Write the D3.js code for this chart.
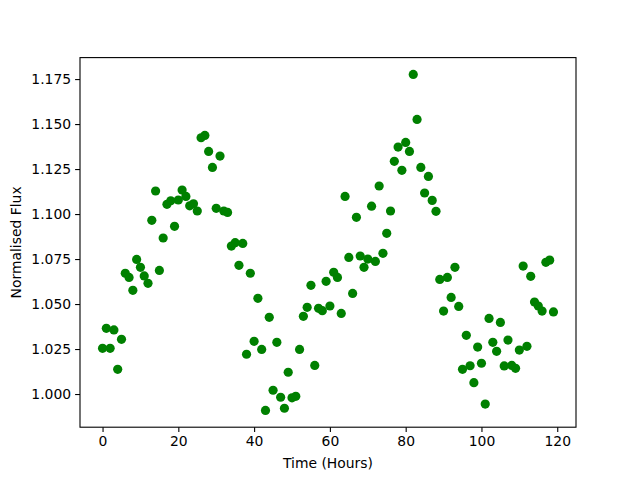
<!DOCTYPE html>
<html>
<head>
<meta charset="utf-8">
<script src="https://cdn.jsdelivr.net/npm/d3@7"></script>
<style>
  body { margin: 0; background: #fff; }
  text { font-family: "DejaVu Sans", sans-serif; }
</style>
</head>
<body>
<div id="chart"></div>
<script>
// hours since start
const hours = [
  0, 1, 2, 3, 4, 5, 6, 7, 8, 9, 10, 11, 12, 13, 14, 15, 16, 17, 18, 19,
  20, 21, 22, 23, 24, 25, 26, 27, 28, 29, 30, 31, 32, 33, 34, 35, 36, 37, 38, 39,
  40, 41, 42, 43, 44, 45, 46, 47, 48, 49, 50, 51, 52, 53, 54, 55, 56, 57, 58, 59,
  60, 61, 62, 63, 64, 65, 66, 67, 68, 69, 70, 71, 72, 73, 74, 75, 76, 77, 78, 79,
  80, 81, 82, 83, 84, 85, 86, 87, 88, 89, 90, 91, 92, 93, 94, 95, 96, 97, 98, 99,
  100, 101, 102, 103, 104, 105, 106, 107, 108, 109, 110, 111, 112, 113, 114, 115, 116, 117, 118, 119
];

// normalised flux
const flux = [
  1.0254, 1.0365, 1.0254, 1.0356, 1.0137, 1.0304, 1.0671, 1.0648, 1.0576, 1.0748,
  1.0704, 1.0656, 1.0615, 1.0965, 1.1128, 1.0687, 1.0867, 1.1054, 1.1074, 1.0932,
  1.1078, 1.1133, 1.1098, 1.1046, 1.1057, 1.1017, 1.1424, 1.1437, 1.1348, 1.1259,
  1.1032, 1.1322, 1.1017, 1.1009, 1.0822, 1.0841, 1.0715, 1.0837, 1.0221, 1.0671,
  1.0293, 1.0532, 1.0248, 0.9909, 1.0426, 1.0021, 1.0287, 0.9982, 0.9921, 1.0121,
  0.9979, 0.9987, 1.0248, 1.0432, 1.0482, 1.0604, 1.0159, 1.0476, 1.0463, 1.0626,
  1.0489, 1.0676, 1.0648, 1.0448, 1.1098, 1.0759, 1.0559, 1.0982, 1.0767, 1.0704,
  1.0750, 1.1044, 1.0737, 1.1156, 1.0782, 1.0893, 1.1017, 1.1293, 1.1372, 1.1243,
  1.1398, 1.1348, 1.1776, 1.1526, 1.1259, 1.1117, 1.1209, 1.1076, 1.1015, 1.0637,
  1.0461, 1.0648, 1.0537, 1.0704, 1.0487, 1.0137, 1.0326, 1.0157, 1.0063, 1.0261,
  1.0171, 0.9944, 1.0420, 1.0287, 1.0237, 1.0398, 1.0156, 1.0300, 1.0159, 1.0143,
  1.0244, 1.0711, 1.0265, 1.0654, 1.0511, 1.0489, 1.0461, 1.0732, 1.0744, 1.0456
];

const xTicks = [0, 20, 40, 60, 80, 100, 120];
const yTicks = [1.000, 1.025, 1.050, 1.075, 1.100, 1.125, 1.150, 1.175];

const W = 640, H = 480;
const margin = { top: 57.6, right: 64, bottom: 52.8, left: 80 };
const width = W - margin.left - margin.right;
const height = H - margin.top - margin.bottom;

const data = hours.map((h, i) => ({ t: h, f: flux[i] }));

// matplotlib style 5% padding
function pad(ext) {
  const m = (ext[1] - ext[0]) * 0.05;
  return [ext[0] - m, ext[1] + m];
}

const x = d3.scaleLinear().domain(pad(d3.extent(hours))).range([0, width]);
const y = d3.scaleLinear().domain(pad(d3.extent(flux))).range([height, 0]);

const svg = d3.select('#chart').append('svg')
  .attr('width', W)
  .attr('height', H);

const g = svg.append('g')
  .attr('transform', `translate(${margin.left},${margin.top})`);

const xAxis = g.append('g')
  .attr('transform', `translate(0,${height})`)
  .call(d3.axisBottom(x).tickValues(xTicks).tickFormat(d3.format('d'))
    .tickSizeInner(4.9).tickSizeOuter(0).tickPadding(4));

const yAxis = g.append('g')
  .call(d3.axisLeft(y).tickValues(yTicks).tickFormat(d3.format('.3f'))
    .tickSizeInner(4.9).tickSizeOuter(0).tickPadding(4));

[xAxis, yAxis].forEach(a => {
  a.select('.domain').remove();
  a.selectAll('line').attr('stroke', '#000').attr('stroke-width', 1.1);
  a.selectAll('text')
    .attr('fill', '#000')
    .style('font-family', '"DejaVu Sans", sans-serif')
    .style('font-size', '13.9px');
});

g.selectAll('circle.pt')
  .data(data)
  .enter()
  .append('circle')
  .attr('class', 'pt')
  .attr('cx', d => x(d.t))
  .attr('cy', d => y(d.f))
  .attr('r', 4.6)
  .attr('fill', '#008000');

// frame
g.append('rect')
  .attr('width', width)
  .attr('height', height)
  .attr('fill', 'none')
  .attr('stroke', '#000')
  .attr('stroke-width', 1.1);

svg.append('text')
  .attr('x', margin.left + width / 2)
  .attr('y', 468)
  .attr('text-anchor', 'middle')
  .style('font-size', '13.9px')
  .text('Time (Hours)');

svg.append('text')
  .attr('transform', `translate(21,${margin.top + height / 2}) rotate(-90)`)
  .attr('text-anchor', 'middle')
  .style('font-size', '13.9px')
  .text('Normalised Flux');
</script>
</body>
</html>
